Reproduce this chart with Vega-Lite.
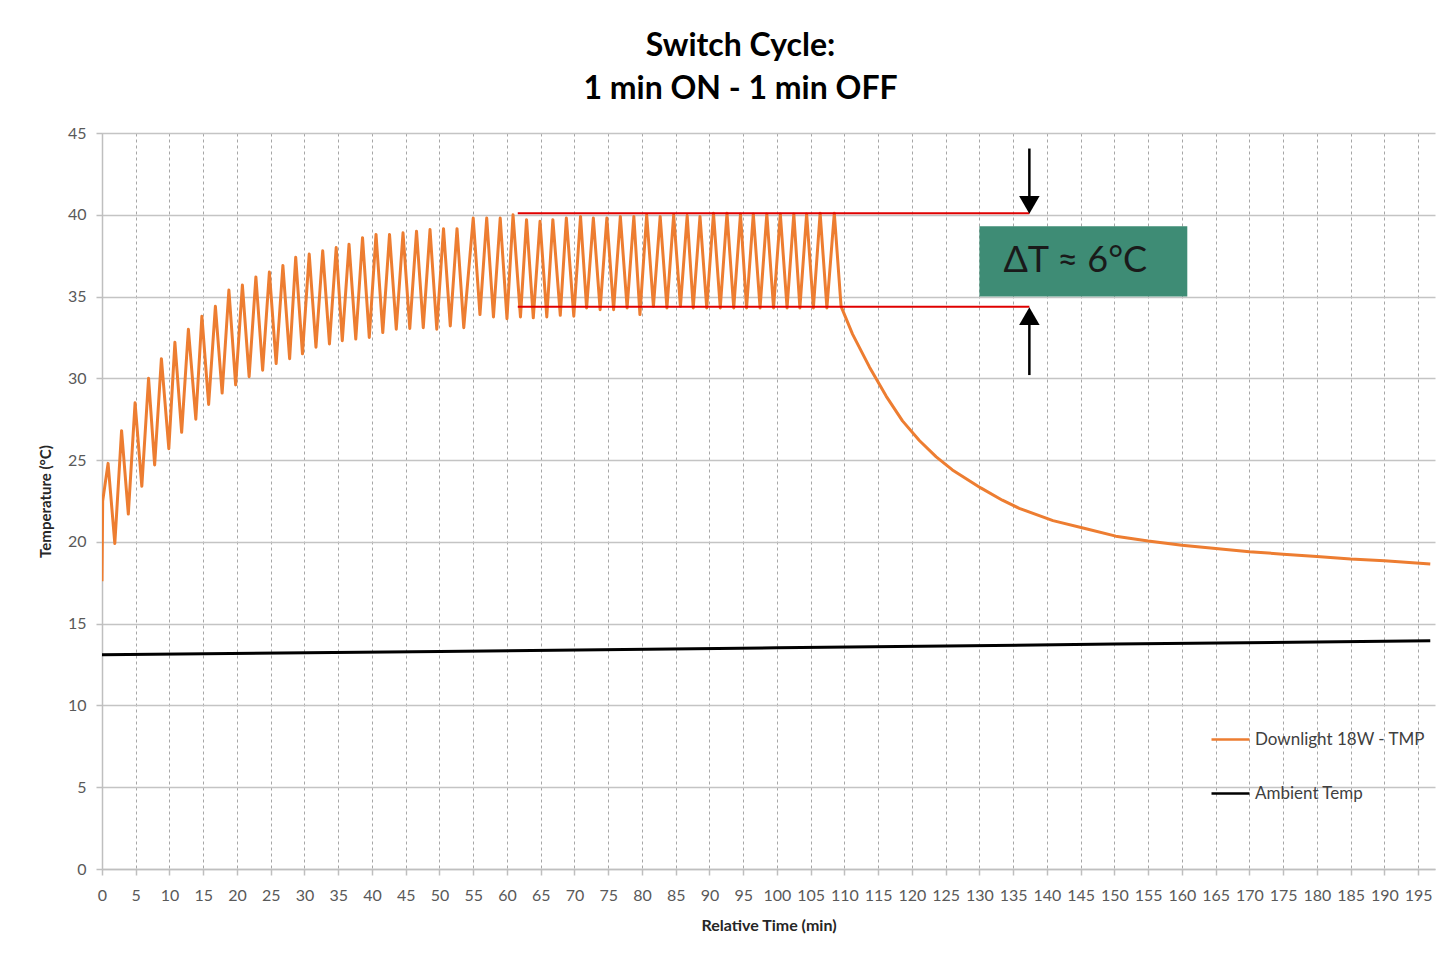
{
  "$schema": "https://vega.github.io/schema/vega-lite/v6.json",
  "autosize": {"type": "none"},
  "padding": {"left": 102, "top": 133, "right": 16, "bottom": 88},
  "width": 1333,
  "height": 736,
  "background": "#ffffff",
  "config": {
    "view": {"stroke": null},
    "font": "Lato"
  },
  "title": {
    "text": ["Switch Cycle:", "1 min ON - 1 min OFF"],
    "font": "Lato",
    "fontSize": 32,
    "fontWeight": "bold",
    "color": "#000000",
    "anchor": "middle",
    "dx": -28,
    "offset": 19,
    "lineHeight": 43
  },
  "datasets": {
    "temps": [
      {"x": 0, "y": 17.6, "s": "Downlight 18W - TMP"},
      {"x": 0.1, "y": 22.5, "s": "Downlight 18W - TMP"},
      {"x": 0.9, "y": 24.8, "s": "Downlight 18W - TMP"},
      {"x": 1.9, "y": 19.9, "s": "Downlight 18W - TMP"},
      {"x": 2.9, "y": 26.8, "s": "Downlight 18W - TMP"},
      {"x": 3.9, "y": 21.7, "s": "Downlight 18W - TMP"},
      {"x": 4.9, "y": 28.5, "s": "Downlight 18W - TMP"},
      {"x": 5.9, "y": 23.4, "s": "Downlight 18W - TMP"},
      {"x": 6.9, "y": 30.0, "s": "Downlight 18W - TMP"},
      {"x": 7.8, "y": 24.7, "s": "Downlight 18W - TMP"},
      {"x": 8.8, "y": 31.2, "s": "Downlight 18W - TMP"},
      {"x": 9.9, "y": 25.7, "s": "Downlight 18W - TMP"},
      {"x": 10.8, "y": 32.2, "s": "Downlight 18W - TMP"},
      {"x": 11.8, "y": 26.7, "s": "Downlight 18W - TMP"},
      {"x": 12.8, "y": 33.0, "s": "Downlight 18W - TMP"},
      {"x": 13.9, "y": 27.5, "s": "Downlight 18W - TMP"},
      {"x": 14.8, "y": 33.8, "s": "Downlight 18W - TMP"},
      {"x": 15.8, "y": 28.4, "s": "Downlight 18W - TMP"},
      {"x": 16.8, "y": 34.4, "s": "Downlight 18W - TMP"},
      {"x": 17.8, "y": 29.1, "s": "Downlight 18W - TMP"},
      {"x": 18.8, "y": 35.4, "s": "Downlight 18W - TMP"},
      {"x": 19.8, "y": 29.6, "s": "Downlight 18W - TMP"},
      {"x": 20.8, "y": 35.7, "s": "Downlight 18W - TMP"},
      {"x": 21.8, "y": 30.1, "s": "Downlight 18W - TMP"},
      {"x": 22.8, "y": 36.2, "s": "Downlight 18W - TMP"},
      {"x": 23.8, "y": 30.5, "s": "Downlight 18W - TMP"},
      {"x": 24.8, "y": 36.5, "s": "Downlight 18W - TMP"},
      {"x": 25.8, "y": 30.9, "s": "Downlight 18W - TMP"},
      {"x": 26.8, "y": 36.9, "s": "Downlight 18W - TMP"},
      {"x": 27.8, "y": 31.2, "s": "Downlight 18W - TMP"},
      {"x": 28.7, "y": 37.4, "s": "Downlight 18W - TMP"},
      {"x": 29.7, "y": 31.5, "s": "Downlight 18W - TMP"},
      {"x": 30.7, "y": 37.6, "s": "Downlight 18W - TMP"},
      {"x": 31.7, "y": 31.9, "s": "Downlight 18W - TMP"},
      {"x": 32.7, "y": 37.8, "s": "Downlight 18W - TMP"},
      {"x": 33.7, "y": 32.1, "s": "Downlight 18W - TMP"},
      {"x": 34.7, "y": 38.0, "s": "Downlight 18W - TMP"},
      {"x": 35.6, "y": 32.3, "s": "Downlight 18W - TMP"},
      {"x": 36.6, "y": 38.2, "s": "Downlight 18W - TMP"},
      {"x": 37.6, "y": 32.4, "s": "Downlight 18W - TMP"},
      {"x": 38.6, "y": 38.6, "s": "Downlight 18W - TMP"},
      {"x": 39.6, "y": 32.5, "s": "Downlight 18W - TMP"},
      {"x": 40.6, "y": 38.8, "s": "Downlight 18W - TMP"},
      {"x": 41.6, "y": 32.8, "s": "Downlight 18W - TMP"},
      {"x": 42.6, "y": 38.8, "s": "Downlight 18W - TMP"},
      {"x": 43.6, "y": 33.0, "s": "Downlight 18W - TMP"},
      {"x": 44.6, "y": 38.9, "s": "Downlight 18W - TMP"},
      {"x": 45.6, "y": 33.05, "s": "Downlight 18W - TMP"},
      {"x": 46.6, "y": 39.0, "s": "Downlight 18W - TMP"},
      {"x": 47.6, "y": 33.1, "s": "Downlight 18W - TMP"},
      {"x": 48.6, "y": 39.1, "s": "Downlight 18W - TMP"},
      {"x": 49.6, "y": 33.0, "s": "Downlight 18W - TMP"},
      {"x": 50.6, "y": 39.15, "s": "Downlight 18W - TMP"},
      {"x": 51.6, "y": 33.2, "s": "Downlight 18W - TMP"},
      {"x": 52.6, "y": 39.15, "s": "Downlight 18W - TMP"},
      {"x": 53.6, "y": 33.1, "s": "Downlight 18W - TMP"},
      {"x": 55.0, "y": 39.8, "s": "Downlight 18W - TMP"},
      {"x": 56.0, "y": 33.9, "s": "Downlight 18W - TMP"},
      {"x": 57.0, "y": 39.8, "s": "Downlight 18W - TMP"},
      {"x": 58.0, "y": 33.75, "s": "Downlight 18W - TMP"},
      {"x": 59.0, "y": 39.8, "s": "Downlight 18W - TMP"},
      {"x": 60.0, "y": 33.65, "s": "Downlight 18W - TMP"},
      {"x": 60.9, "y": 40.0, "s": "Downlight 18W - TMP"},
      {"x": 62.0, "y": 33.75, "s": "Downlight 18W - TMP"},
      {"x": 62.9, "y": 39.7, "s": "Downlight 18W - TMP"},
      {"x": 63.9, "y": 33.7, "s": "Downlight 18W - TMP"},
      {"x": 64.9, "y": 39.6, "s": "Downlight 18W - TMP"},
      {"x": 65.9, "y": 33.75, "s": "Downlight 18W - TMP"},
      {"x": 66.8, "y": 39.7, "s": "Downlight 18W - TMP"},
      {"x": 67.9, "y": 33.85, "s": "Downlight 18W - TMP"},
      {"x": 68.8, "y": 39.8, "s": "Downlight 18W - TMP"},
      {"x": 69.9, "y": 33.8, "s": "Downlight 18W - TMP"},
      {"x": 70.9, "y": 39.9, "s": "Downlight 18W - TMP"},
      {"x": 71.8, "y": 34.3, "s": "Downlight 18W - TMP"},
      {"x": 72.8, "y": 39.8, "s": "Downlight 18W - TMP"},
      {"x": 73.8, "y": 34.2, "s": "Downlight 18W - TMP"},
      {"x": 74.8, "y": 39.8, "s": "Downlight 18W - TMP"},
      {"x": 75.8, "y": 34.2, "s": "Downlight 18W - TMP"},
      {"x": 76.8, "y": 39.9, "s": "Downlight 18W - TMP"},
      {"x": 77.8, "y": 34.3, "s": "Downlight 18W - TMP"},
      {"x": 78.8, "y": 39.9, "s": "Downlight 18W - TMP"},
      {"x": 79.7, "y": 33.9, "s": "Downlight 18W - TMP"},
      {"x": 80.7, "y": 40.0, "s": "Downlight 18W - TMP"},
      {"x": 81.7, "y": 34.4, "s": "Downlight 18W - TMP"},
      {"x": 82.7, "y": 39.9, "s": "Downlight 18W - TMP"},
      {"x": 83.7, "y": 34.3, "s": "Downlight 18W - TMP"},
      {"x": 84.7, "y": 40.0, "s": "Downlight 18W - TMP"},
      {"x": 85.7, "y": 34.4, "s": "Downlight 18W - TMP"},
      {"x": 86.7, "y": 39.95, "s": "Downlight 18W - TMP"},
      {"x": 87.6, "y": 34.3, "s": "Downlight 18W - TMP"},
      {"x": 88.6, "y": 39.9, "s": "Downlight 18W - TMP"},
      {"x": 89.6, "y": 34.3, "s": "Downlight 18W - TMP"},
      {"x": 90.6, "y": 40.1, "s": "Downlight 18W - TMP"},
      {"x": 91.6, "y": 34.3, "s": "Downlight 18W - TMP"},
      {"x": 92.6, "y": 40.1, "s": "Downlight 18W - TMP"},
      {"x": 93.6, "y": 34.3, "s": "Downlight 18W - TMP"},
      {"x": 94.6, "y": 40.05, "s": "Downlight 18W - TMP"},
      {"x": 95.5, "y": 34.3, "s": "Downlight 18W - TMP"},
      {"x": 96.5, "y": 40.05, "s": "Downlight 18W - TMP"},
      {"x": 97.5, "y": 34.3, "s": "Downlight 18W - TMP"},
      {"x": 98.5, "y": 40.05, "s": "Downlight 18W - TMP"},
      {"x": 99.5, "y": 34.3, "s": "Downlight 18W - TMP"},
      {"x": 100.5, "y": 40.05, "s": "Downlight 18W - TMP"},
      {"x": 101.5, "y": 34.3, "s": "Downlight 18W - TMP"},
      {"x": 102.5, "y": 40.05, "s": "Downlight 18W - TMP"},
      {"x": 103.4, "y": 34.3, "s": "Downlight 18W - TMP"},
      {"x": 104.4, "y": 40.05, "s": "Downlight 18W - TMP"},
      {"x": 105.4, "y": 34.3, "s": "Downlight 18W - TMP"},
      {"x": 106.4, "y": 40.1, "s": "Downlight 18W - TMP"},
      {"x": 107.4, "y": 34.3, "s": "Downlight 18W - TMP"},
      {"x": 108.5, "y": 40.1, "s": "Downlight 18W - TMP"},
      {"x": 109.5, "y": 34.4, "s": "Downlight 18W - TMP"},
      {"x": 111.2, "y": 32.7, "s": "Downlight 18W - TMP"},
      {"x": 113.7, "y": 30.7, "s": "Downlight 18W - TMP"},
      {"x": 116.2, "y": 28.9, "s": "Downlight 18W - TMP"},
      {"x": 118.6, "y": 27.4, "s": "Downlight 18W - TMP"},
      {"x": 121.1, "y": 26.2, "s": "Downlight 18W - TMP"},
      {"x": 123.6, "y": 25.2, "s": "Downlight 18W - TMP"},
      {"x": 126.0, "y": 24.4, "s": "Downlight 18W - TMP"},
      {"x": 130.2, "y": 23.3, "s": "Downlight 18W - TMP"},
      {"x": 133.4, "y": 22.55, "s": "Downlight 18W - TMP"},
      {"x": 135.9, "y": 22.05, "s": "Downlight 18W - TMP"},
      {"x": 140.9, "y": 21.3, "s": "Downlight 18W - TMP"},
      {"x": 145.8, "y": 20.8, "s": "Downlight 18W - TMP"},
      {"x": 150.2, "y": 20.35, "s": "Downlight 18W - TMP"},
      {"x": 155, "y": 20.05, "s": "Downlight 18W - TMP"},
      {"x": 160, "y": 19.8, "s": "Downlight 18W - TMP"},
      {"x": 165, "y": 19.6, "s": "Downlight 18W - TMP"},
      {"x": 170, "y": 19.4, "s": "Downlight 18W - TMP"},
      {"x": 175, "y": 19.25, "s": "Downlight 18W - TMP"},
      {"x": 180, "y": 19.1, "s": "Downlight 18W - TMP"},
      {"x": 185, "y": 18.95, "s": "Downlight 18W - TMP"},
      {"x": 190, "y": 18.85, "s": "Downlight 18W - TMP"},
      {"x": 196.8, "y": 18.65, "s": "Downlight 18W - TMP"},
      {"x": 0, "y": 13.1, "s": "Ambient Temp"},
      {"x": 50, "y": 13.3, "s": "Ambient Temp"},
      {"x": 100, "y": 13.52, "s": "Ambient Temp"},
      {"x": 150, "y": 13.75, "s": "Ambient Temp"},
      {"x": 196.8, "y": 13.95, "s": "Ambient Temp"}
    ],
    "redLines": [
      {"x": 61.6, "x2": 137.4, "y": 40.1},
      {"x": 61.6, "x2": 137.4, "y": 34.37}
    ],
    "arrowShafts": [
      {"x": 137.4, "y": 44.05, "y2": 40.9},
      {"x": 137.4, "y": 30.2, "y2": 33.5}
    ],
    "arrowDown": [{"x": 137.4, "y": 40.6}],
    "arrowUp": [{"x": 137.4, "y": 33.8}],
    "box": [{"x": 130.0, "x2": 160.8, "y": 35.0, "y2": 39.3}],
    "boxLabel": [{"x": 144.2, "y": 37.15, "label": "ΔT ≈ 6°C"}]
  },
  "encoding": {
    "x": {
      "field": "x", "type": "quantitative",
      "scale": {"domain": [0, 197.5], "nice": false, "zero": false},
      "axis": {
        "title": "Relative Time (min)",
        "values": [0,5,10,15,20,25,30,35,40,45,50,55,60,65,70,75,80,85,90,95,100,105,110,115,120,125,130,135,140,145,150,155,160,165,170,175,180,185,190,195],
        "grid": true, "gridDash": [3, 3], "gridColor": "#a6a6a6", "gridWidth": 1,
        "domainColor": "#bfbfbf", "domainWidth": 1.5,
        "tickColor": "#bfbfbf", "tickSize": 6, "tickWidth": 1.5,
        "labelFont": "Lato", "labelFontSize": 16, "labelColor": "#595959", "labelPadding": 12,
        "labelOverlap": false, "labelFlush": false,
        "titleFont": "Lato", "titleFontSize": 16, "titleFontWeight": "bold", "titleColor": "#262626", "titlePadding": 14
      }
    },
    "y": {
      "field": "y", "type": "quantitative",
      "scale": {"domain": [0, 45], "nice": false},
      "axis": {
        "title": "Temperature (°C)",
        "values": [0,5,10,15,20,25,30,35,40,45],
        "grid": true, "gridColor": "#c4c4c4", "gridWidth": 1.5,
        "domainColor": "#bfbfbf", "domainWidth": 1.5,
        "tickColor": "#bfbfbf", "tickSize": 6, "tickWidth": 1.5,
        "labelFont": "Lato", "labelFontSize": 16, "labelColor": "#595959", "labelPadding": 10,
        "labelFlush": false,
        "titleFont": "Lato", "titleFontSize": 15, "titleFontWeight": "bold", "titleColor": "#262626", "titlePadding": 14
      }
    }
  },
  "layer": [
    {
      "data": {"name": "temps"},
      "mark": {"type": "line", "strokeWidth": 3, "strokeJoin": "round", "clip": true},
      "encoding": {
        "color": {
          "field": "s", "type": "nominal",
          "scale": {"domain": ["Downlight 18W - TMP", "Ambient Temp"], "range": ["#ED7D31", "#000000"]},
          "legend": {
            "title": null,
            "orient": "none",
            "legendX": 1108,
            "legendY": 586,
            "symbolType": "stroke",
            "symbolSize": 1444,
            "symbolStrokeWidth": 2.5,
            "labelFont": "Lato",
            "labelFontSize": 17,
            "labelColor": "#404040",
            "labelOffset": 4,
            "labelLimit": 400,
            "rowPadding": 25,
            "padding": 0
          }
        }
      }
    },
    {
      "data": {"name": "redLines"},
      "mark": {"type": "rule", "color": "#E00000", "strokeWidth": 2},
      "encoding": {
        "x2": {"field": "x2"}
      }
    },
    {
      "data": {"name": "arrowShafts"},
      "mark": {"type": "rule", "color": "#000000", "strokeWidth": 2.5},
      "encoding": {
        "y2": {"field": "y2"}
      }
    },
    {
      "data": {"name": "arrowDown"},
      "mark": {"type": "point", "shape": "triangle-down", "filled": true, "color": "#000000", "size": 420, "opacity": 1}
    },
    {
      "data": {"name": "arrowUp"},
      "mark": {"type": "point", "shape": "triangle-up", "filled": true, "color": "#000000", "size": 420, "opacity": 1}
    },
    {
      "data": {"name": "box"},
      "mark": {"type": "rect", "color": "#3E8C75"},
      "encoding": {
        "x2": {"field": "x2"},
        "y2": {"field": "y2"}
      }
    },
    {
      "data": {"name": "boxLabel"},
      "mark": {"type": "text", "font": "Lato", "fontSize": 36, "color": "#1a1a1a", "align": "center", "baseline": "middle"},
      "encoding": {
        "text": {"field": "label"}
      }
    }
  ]
}
